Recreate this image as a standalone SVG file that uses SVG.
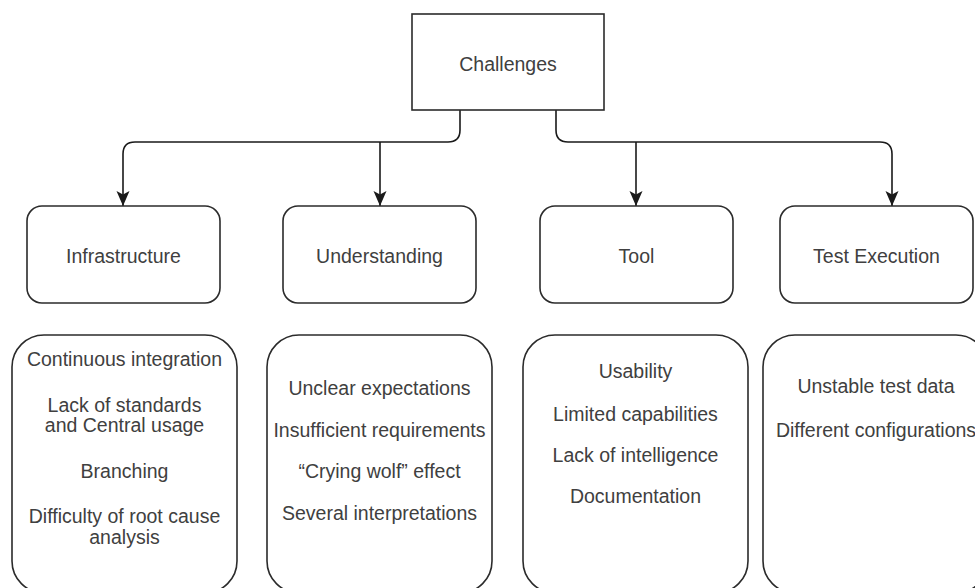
<svg xmlns="http://www.w3.org/2000/svg" width="975" height="588" viewBox="0 0 975 588">
  <style>
    .box { fill: #ffffff; stroke: #2b2b2b; stroke-width: 1.6; }
    .edge { fill: none; stroke: #1a1a1a; stroke-width: 1.6; }
    text { font-family: "Liberation Sans", Arial, Helvetica, sans-serif; font-size: 19.5px; fill: #404040; text-anchor: middle; }
  </style>
  <defs>
    <marker id="arrow" markerUnits="userSpaceOnUse" markerWidth="16" markerHeight="16" viewBox="0 0 16 16" refX="15" refY="8" orient="auto">
      <path d="M0,1.5 L15,8 L0,14.5 L3.5,8 z" fill="#1a1a1a"/>
    </marker>
  </defs>

  <rect width="975" height="588" fill="#ffffff"/>

  <g id="connectors">
    <path class="edge" d="M460,110 V130 Q460,142 448,142 H135 Q123,142 123,154 V206" marker-end="url(#arrow)"/>
    <path class="edge" d="M380,142 V206" marker-end="url(#arrow)"/>
    <path class="edge" d="M556,110 V130 Q556,142 568,142 H880 Q892,142 892,154 V206" marker-end="url(#arrow)"/>
    <path class="edge" d="M636,142 V206" marker-end="url(#arrow)"/>
  </g>

  <g id="challenges">
    <rect class="box" x="412" y="14" width="192" height="96"/>
    <text x="508" y="71">Challenges</text>
  </g>

  <g id="infrastructure">
    <rect class="box" x="27" y="206" width="193" height="97" rx="15"/>
    <text x="123.5" y="263">Infrastructure</text>
  </g>
  <g id="understanding">
    <rect class="box" x="283" y="206" width="193" height="97" rx="15"/>
    <text x="379.5" y="263">Understanding</text>
  </g>
  <g id="tool">
    <rect class="box" x="540" y="206" width="193" height="97" rx="15"/>
    <text x="636.5" y="263">Tool</text>
  </g>
  <g id="test-execution">
    <rect class="box" x="780" y="206" width="193" height="97" rx="15"/>
    <text x="876.5" y="263">Test Execution</text>
  </g>

  <g id="infrastructure-items">
    <rect class="box" x="12" y="335" width="225" height="258" rx="32"/>
    <text x="124.5" y="366">Continuous integration</text>
    <text x="124.5" y="412">Lack of standards</text>
    <text x="124.5" y="432">and Central usage</text>
    <text x="124.5" y="478">Branching</text>
    <text x="124.5" y="523">Difficulty of root cause</text>
    <text x="124.5" y="544">analysis</text>
  </g>
  <g id="understanding-items">
    <rect class="box" x="267" y="335" width="225" height="258" rx="32"/>
    <text x="379.5" y="395">Unclear expectations</text>
    <text x="379.5" y="437">Insufficient requirements</text>
    <text x="379.5" y="478">“Crying wolf” effect</text>
    <text x="379.5" y="520">Several interpretations</text>
  </g>
  <g id="tool-items">
    <rect class="box" x="523" y="335" width="225" height="258" rx="32"/>
    <text x="635.5" y="378">Usability</text>
    <text x="635.5" y="421">Limited capabilities</text>
    <text x="635.5" y="462">Lack of intelligence</text>
    <text x="635.5" y="503">Documentation</text>
  </g>
  <g id="test-execution-items">
    <rect class="box" x="763" y="335" width="225" height="258" rx="32"/>
    <text x="876" y="393">Unstable test data</text>
    <text x="876" y="437">Different configurations</text>
  </g>
</svg>
